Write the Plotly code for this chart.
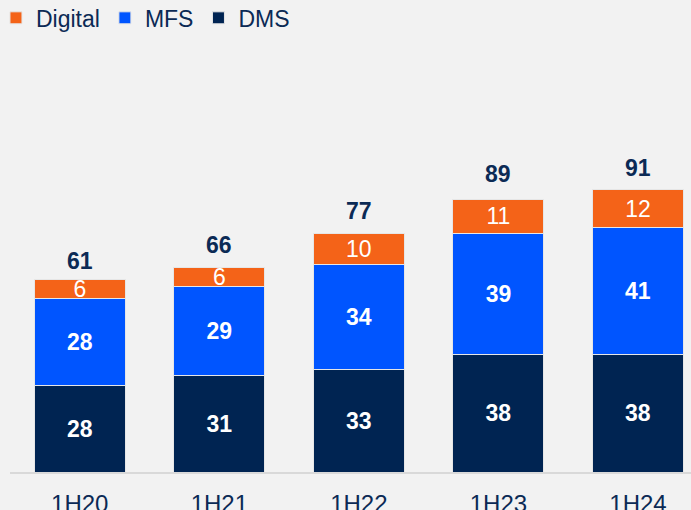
import plotly.graph_objects as go

categories = ["1H20", "1H21", "1H22", "1H23", "1H24"]
dms = [28, 31, 33, 38, 38]
mfs = [28, 29, 34, 39, 41]
digital = [6, 6, 10, 11, 12]
totals = [61, 66, 77, 89, 91]

NAVY = "#002452"
BLUE = "#0055FF"
ORANGE = "#F46318"
TXT = "#0B2A55"
FONT = "Liberation Sans, Arial, sans-serif"
FS = 23

fig = go.Figure()
common = dict(textposition="inside", insidetextanchor="middle", constraintext="none",
              textangle=0, marker_line=dict(color="#E6E6E6", width=1))
fig.add_trace(go.Bar(name="DMS", x=categories, y=dms, marker_color=NAVY,
                     text=[f"<b>{v}</b>" for v in dms],
                     textfont=dict(color="white", size=FS, family=FONT), **common))
fig.add_trace(go.Bar(name="MFS", x=categories, y=mfs, marker_color=BLUE,
                     text=[f"<b>{v}</b>" for v in mfs],
                     textfont=dict(color="white", size=FS, family=FONT), **common))
fig.add_trace(go.Bar(name="Digital", x=categories, y=digital, marker_color=ORANGE,
                     text=[str(v) for v in digital],
                     textfont=dict(color="white", size=FS, family=FONT), **common))

for c, t in zip(categories, totals):
    fig.add_annotation(x=c, y=t, text=f"<b>{t}</b>", showarrow=False,
                       yanchor="bottom", yshift=7,
                       font=dict(color=TXT, size=FS, family=FONT))

fig.update_layout(
    width=691, height=510,
    barmode="stack", bargap=0.348,
    paper_bgcolor="#F2F2F2", plot_bgcolor="#F2F2F2",
    margin=dict(l=10, r=0, t=40, b=38, autoexpand=False),
    font=dict(family=FONT, color=TXT, size=FS),
    uniformtext=dict(minsize=FS, mode="show"),
    legend=dict(orientation="h", traceorder="reversed", x=-0.0206, y=1.101,
                xref="paper", yref="paper", xanchor="left", yanchor="top",
                font=dict(size=23, color=TXT, family=FONT), bgcolor="rgba(0,0,0,0)"),
    showlegend=True,
)
fig.update_xaxes(range=[-0.5, 4.38], showline=True, linecolor="#D9D9D9", linewidth=2,
                 ticks="outside", ticklen=9, tickcolor="rgba(0,0,0,0)",
                 tickfont=dict(size=24, color=TXT, family=FONT), showgrid=False)
fig.update_yaxes(range=[0, 139.4], visible=False, showgrid=False)

fig.write_html("out.html", config={"displayModeBar": False},
               post_script="document.body.style.margin='0';"
                           "document.body.style.background='#F2F2F2';"
                           "document.body.style.overflow='hidden';")
